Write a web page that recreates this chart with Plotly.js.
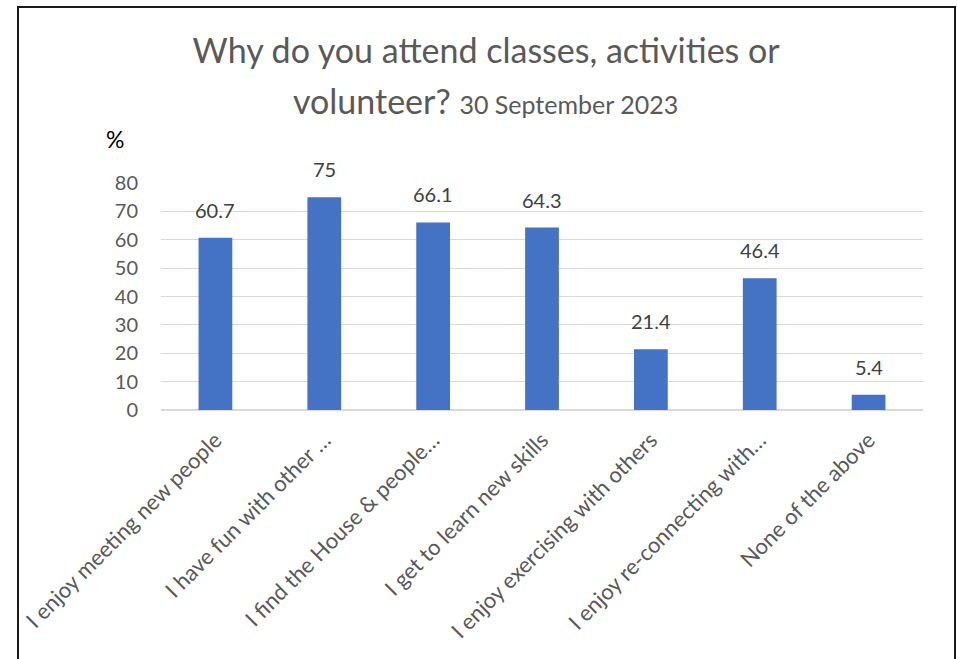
<!DOCTYPE html>
<html>
<head>
<meta charset="utf-8">
<script src="https://cdn.plot.ly/plotly-3.0.1.min.js"></script>
<style>
  html, body { margin: 0; padding: 0; background: #fff; overflow: hidden; }
  #wrap { position: relative; width: 957px; height: 659px; }
  #chart { position: absolute; left: 0; top: 0; width: 957px; height: 659px; }
  #frame { position: absolute; left: 17px; top: 6px; width: 935px; height: 700px;
           border: 2px solid #1a1a1a; pointer-events: none; }
</style>
</head>
<body>
<div id="wrap">
  <div id="chart"></div>
  <div id="frame"></div>
</div>
<script>
const categories = [
  "I enjoy meeting new people",
  "I have fun with other …",
  "I find the House & people…",
  "I get to learn new skills",
  "I enjoy exercising with others",
  "I enjoy re-connecting with…",
  "None of the above"
];
const values = [60.7, 75, 66.1, 64.3, 21.4, 46.4, 5.4];
const yTicks = [0, 10, 20, 30, 40, 50, 60, 70, 80];
const titleLine1 = "Why do you attend classes, activities or";
const titleLine2 = "volunteer?";
const titleDate = "30 September 2023";
const yUnit = "%";

const FONT = "Lato, 'Open Sans', sans-serif";

const trace = {
  type: "bar",
  x: categories,
  y: values,
  marker: { color: "#4472C4" },
  hoverinfo: "x+y",
  cliponaxis: false
};

const annotations = categories.map((c, i) => ({
  x: c, y: values[i], xref: "x", yref: "y",
  text: String(values[i]),
  showarrow: false, yanchor: "bottom", yshift: 14,
  font: { family: FONT, size: 20, color: "#404040" }
}));
annotations.push({
  xref: "paper", yref: "paper", x: -0.06, y: 1.196,
  xanchor: "center", yanchor: "middle",
  text: yUnit, showarrow: false,
  font: { family: FONT, size: 23, color: "#000000" }
});
annotations.push({
  xref: "paper", yref: "paper", x: 0.4265, y: 1.364,
  xanchor: "center", yanchor: "middle",
  text: titleLine2 + " <span style='font-size:25px'>" + titleDate + "</span>",
  showarrow: false,
  font: { family: FONT, size: 34, color: "#595959" }
});

const layout = {
  width: 957, height: 659,
  margin: { l: 161, r: 34, t: 183, b: 249, pad: 0 },
  paper_bgcolor: "rgba(0,0,0,0)",
  plot_bgcolor: "rgba(0,0,0,0)",
  showlegend: false,
  bargap: 0.69,
  title: {
    text: titleLine1,
    font: { family: FONT, size: 34, color: "#595959" },
    xref: "container", x: 0.508, xanchor: "center",
    yref: "container", y: 0.9226, yanchor: "middle"
  },
  xaxis: {
    type: "category",
    tickangle: -45,
    tickfont: { family: FONT, size: 22, color: "#595959" },
    showgrid: false,
    showline: false,
    ticks: "",
    ticklabelstandoff: 12
  },
  yaxis: {
    range: [0, 80],
    tickvals: yTicks,
    ticktext: yTicks.map(String),
    tickfont: { family: FONT, size: 20, color: "#595959" },
    showgrid: true,
    gridcolor: "#d9d9d9",
    gridwidth: 1,
    zeroline: true,
    zerolinecolor: "#d9d9d9",
    zerolinewidth: 1.5,
    showline: false,
    ticks: "",
    ticklabelstandoff: 22
  },
  annotations: annotations
};

Plotly.newPlot("chart", [trace], layout, { displayModeBar: false });
</script>
</body>
</html>
